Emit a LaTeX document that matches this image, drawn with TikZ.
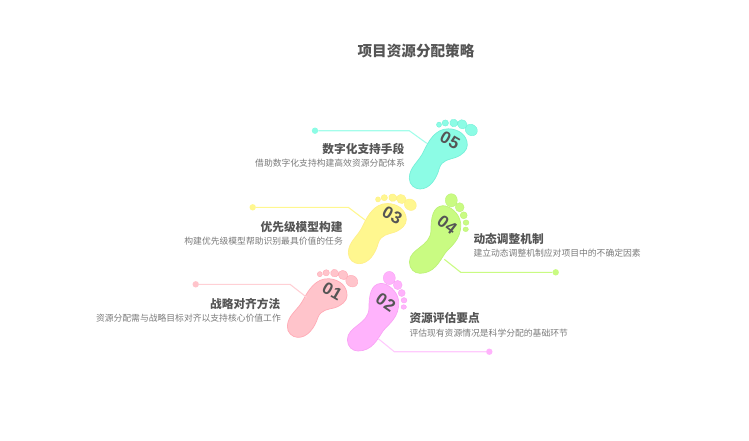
\documentclass[tikz,border=0pt]{standalone}
\usepackage{fontspec}
\usepackage{xcolor}
\setmainfont{Noto Sans CJK SC}
\newfontfamily\numfont[LetterSpace=5]{Liberation Sans}
\usetikzlibrary{positioning, calc}
\definecolor{pinkfill}{HTML}{FFC4CB}
\definecolor{pinkline}{HTML}{FFABB6}
\definecolor{violetfill}{HTML}{FFB3FC}
\definecolor{violetline}{HTML}{F9A4F5}
\definecolor{yellowfill}{HTML}{FFF78F}
\definecolor{yellowline}{HTML}{FFEF8A}
\definecolor{limefill}{HTML}{C9FB82}
\definecolor{limeline}{HTML}{BDF277}
\definecolor{tealfill}{HTML}{8CFCE5}
\definecolor{tealline}{HTML}{76F0D9}
\definecolor{textdark}{HTML}{555555}
\definecolor{textsoft}{HTML}{7A7A7A}
\tikzset{
	x=1pt, y=-1pt,
	titletext/.style={font=\fontsize{14.6}{17}\selectfont\bfseries, text=textdark, inner sep=0pt},
	headtext/.style={font=\fontsize{11.7}{14}\selectfont\bfseries, text=textdark, inner sep=0pt},
	subtext/.style={font=\fontsize{8.8}{11}\selectfont, text=textsoft, inner sep=0pt},
	footnum/.style={font=\numfont\fontsize{17}{17}\selectfont\bfseries, text=textdark, inner sep=0pt},
	enddot/.style={circle, minimum size=6.4pt, inner sep=0pt},
	linkline/.style={line width=1.1pt},
	% foot with the big toe out to the side
	pics/leftfoot/.style n args={2}{code={
		\path[fill=#1, draw=#2, line width=0.7pt]
			(-30,49) .. controls (-20,49) and (-13.3,38.3) .. (-10.7,28.3)
			.. controls (-8.3,20) and (0,19.3) .. (5,17.7)
			.. controls (12.7,15) and (17.3,10) .. (17.3,5)
			.. controls (17.3,-5) and (8.3,-11.2) .. (-1.7,-11.2)
			.. controls (-15,-11.2) and (-21.7,1.7) .. (-26,10.7)
			.. controls (-30.7,21.7) and (-40.7,26.7) .. (-40.7,38.3)
			.. controls (-40.7,45) and (-35,49) .. (-30,49) -- cycle;
		\path[fill=#1, draw=#2, line width=0.4pt]
			(21.3,-10) circle[x radius=6.3, y radius=5.5, rotate=-35]
			(12.3,-15.7) circle[x radius=4.9, y radius=4.5, rotate=-35]
			(3.7,-17) circle[x radius=4, y radius=3.8, rotate=-20]
			(-4.7,-17) circle[x radius=3.2, y radius=3.1]
			(-11,-15.3) circle[x radius=2.5, y radius=2.6];
	}},
	% foot with the big toe on top
	pics/rightfoot/.style n args={2}{code={
		\path[fill=#1, draw=#2, line width=0.7pt]
			(-26.7,48.3) .. controls (-12.7,48.3) and (-7.3,36.7) .. (-1.7,28.3)
			.. controls (3.3,21.7) and (15,15) .. (14,-1.7)
			.. controls (12.7,-11.7) and (3.3,-19.5) .. (-4,-19.3)
			.. controls (-14,-18.5) and (-15.7,-6.7) .. (-15.7,5)
			.. controls (-15.7,21.7) and (-37.3,23.3) .. (-37.3,37)
			.. controls (-37.3,44) and (-32.3,48.3) .. (-26.7,48.3) -- cycle;
		\path[fill=#1, draw=#2, line width=0.4pt]
			(4.6,-24.7) circle[x radius=6, y radius=6.6]
			(13,-17.7) circle[x radius=4.4, y radius=4.6]
			(17,-9.7) circle[x radius=3.5, y radius=3.5]
			(19.3,-2.4) circle[x radius=2.9, y radius=2.7]
			(19,4.3) circle[x radius=2.7, y radius=2.3];
	}},
}
\begin{document}
\begin{tikzpicture}
	\useasboundingbox (0,0) rectangle (749,440);
	\node[titletext] (title) at (416,51) {项目资源分配策略};
	% Step 01
	\pic (foota) at (330,290) [rotate=-3] {leftfoot={pinkfill}{pinkline}};
	\node[footnum, rotate=-30] (numa) at (332.3,291.7) {01};
	\node[enddot, fill=pinkfill] (dota) at (195.7,284.3) {};
	\coordinate (benda) at (290,284.3);
	\coordinate (tipa) at (306.7,297.3);
	\draw[linkline, pinkfill!80!white] (dota) -- (benda) -- (tipa);
	\node[headtext, anchor=east] (heada) at (280.5,304.3) {战略对齐方法};
	\node[subtext, anchor=east] (suba) at (281,318.3) {资源分配需与战略目标对齐以支持核心价值工作};
	% Step 02
	\pic (footb) at (384.7,302.7) {rightfoot={violetfill}{violetline}};
	\node[footnum, rotate=-35] (numb) at (385.7,302.3) {02};
	\node[enddot, fill=violetfill] (dotb) at (489.3,351.7) {};
	\coordinate (bendb) at (394.3,351.7);
	\coordinate (tipb) at (378.3,338.7);
	\draw[linkline, violetfill!70!white] (dotb) -- (bendb) -- (tipb);
	\node[headtext, anchor=west] (headb) at (409.3,318.3) {资源评估要点};
	\node[subtext, anchor=west] (subb) at (409.3,332.7) {评估现有资源情况是科学分配的基础环节};
	% Step 03
	\pic (footc) at (389,214.7) {leftfoot={yellowfill}{yellowline}};
	\node[footnum, rotate=-30] (numc) at (392.3,215.3) {03};
	\node[enddot, fill=yellowfill] (dotc) at (252.7,207.3) {};
	\coordinate (bendc) at (348.3,207.3);
	\coordinate (tipc) at (365,220);
	\draw[linkline, yellowfill] (dotc) -- (bendc) -- (tipc);
	\node[headtext, anchor=east] (headc) at (342.7,226.7) {优先级模型构建};
	\node[subtext, anchor=east] (subc) at (343,240.7) {构建优先级模型帮助识别最具价值的任务};
	% Step 04
	\pic (footd) at (446.7,225) {rightfoot={limefill}{limeline}};
	\node[footnum, rotate=-38] (numd) at (447.2,225) {04};
	\node[enddot, fill=limefill] (dotd) at (555.7,272.3) {};
	\coordinate (bendd) at (460.7,272.3);
	\coordinate (tipd) at (444.3,259.3);
	\draw[linkline, limefill] (dotd) -- (bendd) -- (tipd);
	\node[headtext, anchor=west] (headd) at (473.3,239) {动态调整机制};
	\node[subtext, anchor=west] (subd) at (473.3,252.7) {建立动态调整机制应对项目中的不确定因素};
	% Step 05
	\pic (foote) at (450,140) {leftfoot={tealfill}{tealline}};
	\node[footnum, rotate=-30] (nume) at (450,140) {05};
	\node[enddot, fill=tealfill] (dote) at (315,130.7) {};
	\coordinate (bende) at (409.3,130.7);
	\coordinate (tipe) at (426.7,143.3);
	\draw[linkline, tealfill!80!white] (dote) -- (bende) -- (tipe);
	\node[headtext, anchor=east] (heade) at (404.5,149.3) {数字化支持手段};
	\node[subtext, anchor=east] (sube) at (405,163.3) {借助数字化支持构建高效资源分配体系};
\end{tikzpicture}
\end{document}
